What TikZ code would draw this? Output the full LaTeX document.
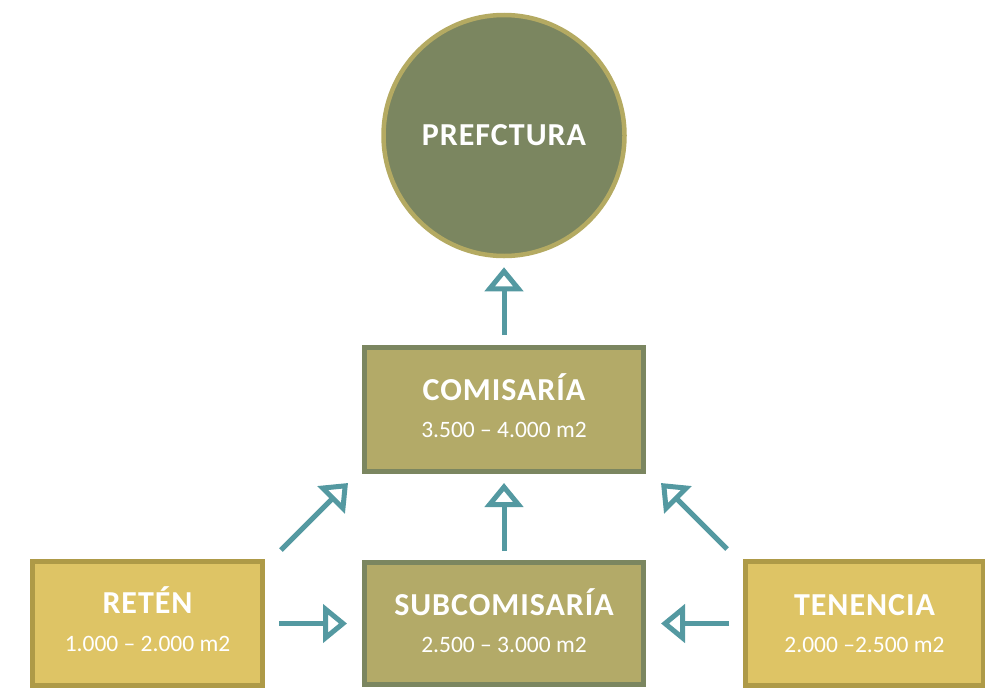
\documentclass[tikz,border=0pt]{standalone}
\usepackage{fontspec}
\setmainfont{Carlito}
\newfontfamily\titlefam[LetterSpace=3]{Carlito}
\usetikzlibrary{arrows.meta,calc}
\definecolor{teal}{HTML}{5499A1}
\definecolor{olive}{HTML}{7B8660}
\definecolor{oliveline}{HTML}{B4AA62}
\definecolor{khaki}{HTML}{B3AA68}
\definecolor{gold}{HTML}{DEC465}
\definecolor{goldline}{HTML}{AE9A47}
\tikzset{
  boxk/.style={draw=olive, fill=khaki, line width=5pt, rectangle, inner sep=0pt, minimum width=279pt, minimum height=124pt},
  boxg/.style={draw=goldline, fill=gold, line width=5pt, rectangle, inner sep=0pt},
  ttl/.style={anchor=base, text=white, inner sep=0pt, font=\titlefam\bfseries\fontsize{32}{38}\selectfont},
  sub/.style={anchor=base, text=white, inner sep=0pt, font=\fontsize{23.5}{28}\selectfont},
  conn/.style={draw=teal, line width=5pt, -{Triangle[fill=white, length=24pt, width=38pt]}},
}
\begin{document}
\begin{tikzpicture}[x=1pt, y=-1pt]
\useasboundingbox (0,0) rectangle (985,688);
% nodes
\node[circle, draw=oliveline, fill=olive, line width=4.5pt, minimum size=241pt, inner sep=0pt] (pre) at (504,135.5) {};
\node[ttl] (preT) at ($(pre.center)+(0,10)$) {PREFCTURA};

\node[boxk] (com) at (504,409.5) {};
\node[ttl] (comT) at ($(com.center)+(0,-9)$) {COMISARÍA};
\node[sub] (comS) at ($(com.center)+(0,28)$) {3.500 – 4.000 m2};

\node[boxk, minimum height=122pt] (subc) at (504,623.5) {};
\node[ttl] (subcT) at ($(subc.center)+(0,-8.5)$) {SUBCOMISARÍA};
\node[sub] (subcS) at ($(subc.center)+(0,28.5)$) {2.500 – 3.000 m2};

\node[boxg, minimum width=230pt, minimum height=124pt] (ret) at (147.5,623.5) {};
\node[ttl] (retT) at ($(ret.center)+(0,-10)$) {RETÉN};
\node[sub] (retS) at ($(ret.center)+(0,27.5)$) {1.000 – 2.000 m2};

\node[boxg, minimum width=238pt, minimum height=124pt] (ten) at (864.5,623.5) {};
\node[ttl] (tenT) at ($(ten.center)+(0,-8.5)$) {TENENCIA};
\node[sub] (tenS) at ($(ten.center)+(0,28.5)$) {2.000 –2.500 m2};

% connectors
\draw[conn, shorten <=10pt, shorten >=9pt] (com.north) -- (pre.south);
\draw[conn, shorten <=9pt, shorten >=9pt] (subc.north) -- (com.south);
\draw[conn, shorten <=14pt, shorten >=15pt] (ret.east) -- (subc.west);
\draw[conn, shorten <=14pt, shorten >=15pt] (ten.west) -- (subc.east);
\draw[conn] ($(ret.north east)+(16,-9)$) -- ($(com.south west)+(-14,9)$);
\draw[conn] ($(ten.north west)+(-16,-10)$) -- ($(com.south east)+(15,9)$);
\end{tikzpicture}
\end{document}
